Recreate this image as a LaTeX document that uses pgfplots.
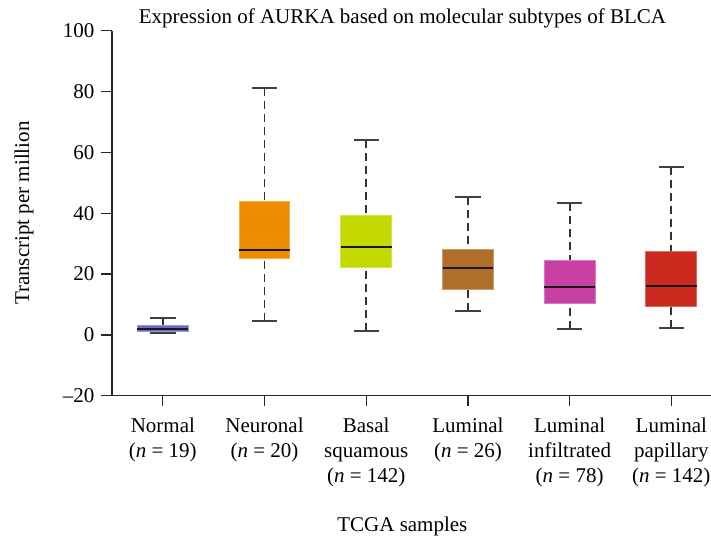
\documentclass[border=0pt]{standalone}
\usepackage{fontspec}
\setmainfont{Liberation Serif}
\usepackage{pgfplots}
\pgfplotsset{compat=1.18}
\usepgfplotslibrary{statistics}

\definecolor{cNormal}{HTML}{6A6AC4}
\definecolor{cNeuronal}{HTML}{EE8B00}
\definecolor{cBasal}{HTML}{C4D900}
\definecolor{cLuminal}{HTML}{B06E2B}
\definecolor{cInfil}{HTML}{C940A3}
\definecolor{cPapil}{HTML}{CC2A1F}

\tikzset{
  whiskerline/.style={line width=1.8pt, black!80, dash pattern=on 8pt off 5pt},
  whiskercap/.style={line width=2pt, black!75, solid},
}

\pgfplotsset{
  boxplot/draw direction=y,
  boxfill/.style={boxplot/every box/.style={fill=#1, draw=#1!70!white, line width=1pt}},
  boxplot/every median/.style={line width=2pt, black!90},
  boxplot/draw/lower whisker/.code={%
    \draw[whiskerline] (boxplot cs:\pgfplotsboxplotvalue{lower whisker})
      -- (boxplot cs:\pgfplotsboxplotvalue{lower quartile});
    \draw[whiskercap] (boxplot whisker cs:\pgfplotsboxplotvalue{lower whisker},0)
      -- (boxplot whisker cs:\pgfplotsboxplotvalue{lower whisker},1);
  },
  boxplot/draw/upper whisker/.code={%
    \draw[whiskerline] (boxplot cs:\pgfplotsboxplotvalue{upper whisker})
      -- (boxplot cs:\pgfplotsboxplotvalue{upper quartile});
    \draw[whiskercap] (boxplot whisker cs:\pgfplotsboxplotvalue{upper whisker},0)
      -- (boxplot whisker cs:\pgfplotsboxplotvalue{upper whisker},1);
  },
}

\begin{document}
\begin{tikzpicture}[font=\fontsize{21}{25}\selectfont]
\path[use as bounding box] (0,0) rectangle (711pt,544pt);
\begin{axis}[
  scale only axis, width=600pt, height=365pt,
  anchor=south west, at={(112pt,148.3pt)},
  xmin=-0.5, xmax=5.4, ymin=-20, ymax=100,
  axis x line*=bottom, axis y line*=left,
  axis line style={line width=1.3pt, black!85},
  tick style={line width=1.3pt, black!85},
  tick align=outside, major tick length=10.5pt,
  ytick={-20,0,20,40,60,80,100},
  yticklabels={–20,0,20,40,60,80,100},
  yticklabel style={anchor=east, inner sep=0pt, xshift=-7pt},
  xtick={0,1,2,3,4,5},
  xticklabels={
    Normal\\(\textit{n} = 19),
    Neuronal\\(\textit{n} = 20),
    Basal\\squamous\\(\textit{n} = 142),
    Luminal\\(\textit{n} = 26),
    Luminal\\infiltrated\\(\textit{n} = 78),
    Luminal\\papillary\\(\textit{n} = 142)},
  xticklabel style={align=center, anchor=north, inner sep=0pt, yshift=-12pt},
  title={Expression of AURKA based on molecular subtypes of BLCA},
  title style={at={(axis description cs:0.484,1)}, anchor=base, yshift=1.2pt, inner sep=0pt},
  xlabel={TCGA samples},
  xlabel style={at={(axis description cs:0.484,0)}, anchor=base, yshift=-135.3pt, inner sep=0pt},
  ylabel={Transcript per million},
  ylabel style={at={(axis description cs:-0.1383,0.5)}, anchor=base, inner sep=0pt},
]
\addplot[boxfill=cNormal, boxplot prepared={draw position=0,
  lower whisker=0.5, lower quartile=1.0, median=2.0,
  upper quartile=3.0, upper whisker=5.6,
  box extend=0.5, whisker extend=0.25}] coordinates {};
\addplot[boxfill=cNeuronal, boxplot prepared={draw position=1,
  lower whisker=4.7, lower quartile=25.2, median=27.8,
  upper quartile=43.7, upper whisker=81.2,
  box extend=0.5, whisker extend=0.25}] coordinates {};
\addplot[boxfill=cBasal, boxplot prepared={draw position=2,
  lower whisker=1.3, lower quartile=22.1, median=29.0,
  upper quartile=39.4, upper whisker=64.1,
  box extend=0.5, whisker extend=0.25}] coordinates {};
\addplot[boxfill=cLuminal, boxplot prepared={draw position=3,
  lower whisker=7.9, lower quartile=15.0, median=22.0,
  upper quartile=28.1, upper whisker=45.4,
  box extend=0.5, whisker extend=0.25}] coordinates {};
\addplot[boxfill=cInfil, boxplot prepared={draw position=4,
  lower whisker=1.9, lower quartile=10.4, median=15.7,
  upper quartile=24.6, upper whisker=43.3,
  box extend=0.5, whisker extend=0.25}] coordinates {};
\addplot[boxfill=cPapil, boxplot prepared={draw position=5,
  lower whisker=2.4, lower quartile=9.2, median=16.2,
  upper quartile=27.4, upper whisker=55.3,
  box extend=0.5, whisker extend=0.25}] coordinates {};
\end{axis}
\end{tikzpicture}
\end{document}
